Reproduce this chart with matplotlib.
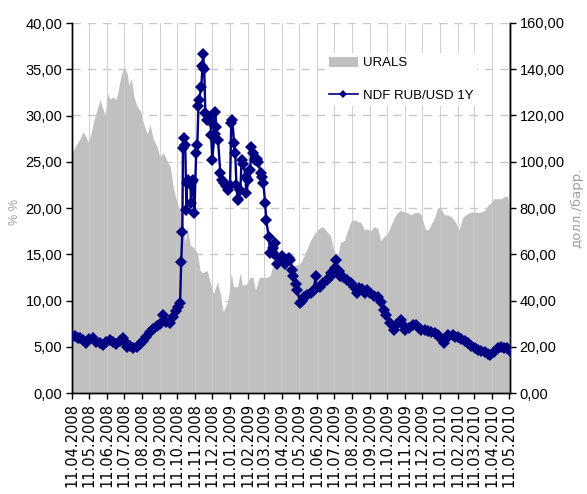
import matplotlib
matplotlib.use("Agg")
import matplotlib.pyplot as plt
import matplotlib.dates as mdates
from matplotlib.patches import Patch
from matplotlib.lines import Line2D
from matplotlib.ticker import FuncFormatter
import pandas as pd

start = pd.Timestamp("2008-04-11")

# URALS price (USD/bbl), day offsets from 11.04.2008
urals_day = [0, 7, 14, 19, 24, 28, 33, 38, 44, 49, 52, 58, 61, 66, 71, 77, 82, 85, 89, 92,
             96, 99, 103, 108, 113, 119, 124, 131, 136, 141, 148, 153, 159, 166, 171, 176, 181,
             185, 190, 193, 197, 200, 206, 211, 218, 223, 228, 235, 241, 246, 253, 258, 263,
             270, 275, 277, 281, 288, 293, 296, 303, 310, 315, 319, 326, 333, 340, 345, 349,
             357, 366, 375, 383, 392, 397, 403, 410, 415, 422, 429, 436, 443, 450, 455, 462,
             467, 474, 479, 485, 492, 497, 502, 509, 514, 519, 526, 532, 537, 544, 549, 554,
             561, 566, 572, 577, 584, 589, 596, 603, 608, 615, 621, 624, 631, 636, 641, 648,
             654, 661, 664, 669, 673, 680, 685, 692, 699, 706, 713, 718, 723, 728, 734, 741,
             746, 753, 758, 762]
urals = [104, 107, 110, 113, 111, 108.7, 112, 118, 123, 127, 124, 120, 130, 127, 128, 127,
         133, 137, 140, 140.4, 138, 133, 136, 128, 124, 122, 117, 112, 116, 110, 106.5, 102,
         104, 100, 98, 89, 84, 80.5, 78, 73, 65, 72, 64, 63, 60.5, 53, 52, 53, 47.5, 43, 48,
         43, 35, 39, 46, 52, 46, 46, 52, 46.7, 47, 50, 50, 44.5, 50, 50, 50, 51, 54.6, 54.6,
         55, 54.6, 55, 55.5, 56, 59, 63, 66, 69, 71, 72, 70, 68, 62, 59, 65, 66, 70, 74, 75,
         74, 74, 70.5, 71, 70, 72, 71, 66, 68, 69, 72, 76, 78, 79, 78.4, 78, 77, 78, 78, 77,
         70.5, 71, 72.6, 76, 80, 80, 77, 77, 76, 75, 73, 70.5, 76, 77, 78, 78.4, 78, 78.4, 79,
         81, 82, 84, 84, 84, 85, 85, 77]

# NDF RUB/USD 1Y (%), day offsets from 11.04.2008
ndf_day = [0, 5, 10, 14, 19, 24, 30, 37, 42, 49, 54, 59, 66, 71, 77, 84, 89, 92, 96, 101,
           106, 113, 119, 124, 129, 136, 141, 148, 153, 159, 164, 171, 176, 181, 185, 188,
           190, 192, 193, 195, 197, 199, 200, 202, 206, 207, 209, 211, 213, 216, 218, 220,
           221, 225, 227, 228, 230, 232, 235, 239, 241, 242, 244, 248, 249, 251, 254, 258,
           261, 265, 268, 272, 275, 277, 279, 282, 284, 286, 288, 289, 293, 295, 298, 302,
           303, 307, 310, 312, 315, 319, 322, 324, 328, 331, 333, 336, 338, 342, 345, 349,
           352, 354, 357, 361, 363, 366, 371, 375, 377, 380, 383, 385, 389, 392, 397, 401,
           403, 408, 415, 420, 424, 425, 431, 437, 443, 448, 451, 457, 460, 464, 467, 472,
           478, 485, 490, 495, 499, 504, 509, 514, 519, 525, 532, 537, 542, 547, 554, 560,
           565, 572, 577, 580, 586, 593, 598, 603, 607, 614, 619, 624, 631, 636, 641, 647,
           652, 655, 662, 667, 671, 676, 683, 689, 694, 701, 706, 711, 718, 723, 728, 734,
           741, 746, 751, 756, 762]
ndf = [6.1, 6.2, 5.9, 5.95, 5.7, 5.4, 5.8, 5.9, 5.5, 5.4, 5.2, 5.5, 5.7, 5.5, 5.3, 5.6, 5.9,
       5.5, 5.0, 5.1, 4.9, 5.0, 5.3, 5.6, 6.1, 6.6, 6.9, 7.2, 7.5, 8.4, 7.7, 7.6, 8.2, 8.9,
       9.3, 9.7, 14.2, 17.4, 26.5, 27.6, 26.8, 19.8, 22.7, 23.0, 22.6, 20.5, 22.8, 23.0,
       19.5, 26.0, 26.8, 31.0, 31.7, 33.1, 35.3, 36.7, 35.0, 30.3, 29.5, 29.8, 29.3, 27.9,
       25.2, 28.0, 30.4, 28.8, 27.4, 23.8, 23.0, 22.7, 22.4, 21.9, 22.5, 29.2, 29.5, 27.0,
       25.9, 22.5, 21.0, 20.9, 22.0, 25.2, 24.8, 23.4, 21.6, 23.0, 24.1, 26.6, 26.0, 25.2,
       25.3, 25.0, 23.8, 23.4, 22.7, 20.5, 18.7, 16.9, 15.1, 15.7, 15.0, 16.2, 14.0, 14.5,
       14.4, 14.8, 14.0, 14.5, 14.6, 14.4, 13.3, 12.6, 11.8, 11.1, 9.7, 10.0, 10.4, 10.6,
       10.8, 11.0, 12.6, 11.3, 11.5, 11.9, 12.2, 12.5, 13.0, 13.5, 14.4, 13.2, 12.6, 12.5,
       12.2, 11.9, 11.5, 10.8, 11.3, 11.2, 10.8, 11.1, 10.8, 10.5, 10.4, 9.8, 9.0, 8.4, 7.6,
       6.8, 7.5, 7.9, 7.2, 6.8, 7.0, 7.3, 7.35, 7.0, 6.8, 6.8, 6.7, 6.6, 6.5, 6.3, 5.9, 5.4,
       5.9, 6.3, 6.3, 6.1, 6.1, 5.8, 5.6, 5.4, 5.1, 4.9, 4.65, 4.5, 4.4, 4.2, 4.1, 4.4, 4.85,
       5.0, 4.85, 4.9, 4.5]

left_ticks = [0, 5, 10, 15, 20, 25, 30, 35, 40]
right_ticks = [0, 20, 40, 60, 80, 100, 120, 140, 160]

urals_dates = start + pd.to_timedelta(urals_day, unit="D")
ndf_dates = start + pd.to_timedelta(ndf_day, unit="D")

fig = plt.figure(figsize=(5.87, 4.94), dpi=100)
ax2 = fig.add_axes([72 / 587, 1 - 393 / 494, (510 - 72) / 587, (393 - 23) / 494])
ax = ax2.twinx()
ax.yaxis.tick_left()
ax2.yaxis.tick_right()

gray = "#c0c0c0"
navy = "#000080"

ax2.set_axisbelow(True)
ax2.yaxis.grid(True, color="#c8c8c8", linestyle=(0, (6, 5)), linewidth=1.0, zorder=0)
ax2.fill_between(urals_dates, urals, 0, color=gray, linewidth=0, zorder=1)

xmin = pd.Timestamp("2008-04-11")
xmax = pd.Timestamp("2010-05-13")
ax2.set_xlim(xmin, xmax)
ax2.set_ylim(0, 160)
ax2.set_yticks(right_ticks)

ax.plot(ndf_dates, ndf, color=navy, linewidth=1.7, marker="D", markersize=6.3,
        markeredgewidth=0, zorder=3)
ax.set_ylim(0, 40)
ax.set_yticks(left_ticks)

# faint seams at month ticks
tick_dates = pd.date_range("2008-04-11", "2010-05-11", freq="MS") + pd.Timedelta(days=10)
for d in tick_dates:
    ax2.axvline(d, color="#c8c8c8", linewidth=0.6, zorder=1.5)

fmt = FuncFormatter(lambda v, p: f"{v:.2f}".replace(".", ","))
ax.yaxis.set_major_formatter(fmt)
ax2.yaxis.set_major_formatter(fmt)

ax2.xaxis.set_major_locator(mdates.MonthLocator(bymonthday=11))
ax2.xaxis.set_major_formatter(mdates.DateFormatter("%d.%m.%Y"))
ax2.tick_params(axis="x", length=4, width=1, pad=3, labelsize=10.5, labelrotation=90)
ax2.tick_params(axis="y", length=4, width=1, pad=3, labelsize=10.5)
ax.tick_params(axis="y", length=4, width=1, pad=3, labelsize=10.5)
for lab in ax.get_yticklabels() + ax2.get_yticklabels():
    lab.set_family("Liberation Sans")
for lab in ax2.get_xticklabels():
    lab.set_family("DejaVu Sans")

for a in (ax, ax2):
    a.spines["top"].set_visible(False)
    for s in ("left", "right", "bottom"):
        a.spines[s].set_color("black")
        a.spines[s].set_linewidth(1.0)

fig.text(15 / 587, 1 - 212 / 494, "% %", color="#a0a0a0", fontsize=9,
         family="Liberation Sans", rotation=90, ha="center", va="center")
fig.text(577 / 587, 1 - 208 / 494, "долл./барр.", color="#a0a0a0", fontsize=9.5,
         family="DejaVu Sans", rotation=90, ha="center", va="center")

handles = [Patch(facecolor=gray, edgecolor="none"),
           Line2D([], [], color=navy, linewidth=1.2, marker="D", markersize=4.5, markeredgewidth=0)]
leg = fig.legend(handles, ["URALS", "NDF RUB/USD 1Y"], loc="upper left",
                 bbox_to_anchor=(318 / 587, 1 - 46 / 494), frameon=True, fancybox=False,
                 facecolor="white", edgecolor="none", framealpha=1,
                 prop={"family": "Liberation Sans", "size": 9.5},
                 handlelength=2.2, handleheight=0.8, labelspacing=1.5, handletextpad=0.4,
                 borderpad=0.3)

fig.savefig("out.png", dpi=100)
